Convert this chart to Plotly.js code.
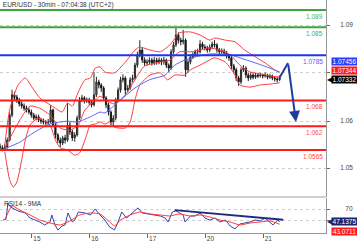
<!DOCTYPE html>
<html><head><meta charset="utf-8">
<script src="https://cdn.plot.ly/plotly-3.0.1.min.js"></script>
<style>html,body{margin:0;padding:0;background:#fff}#chart{width:357px;height:243px}</style>
</head><body><div id="chart"></div>
<script>
// ---- Data ----
const titleText = 'EUR/USD - 30min - 07:04:38 (UTC+2)';
const dayTickPos = [26.5, 74.5, 122.5, 170.5, 218.5];
const dayTickText = ['15', '16', '17', '20', '21'];
const priceTickVals = [1.0855, 1.0744, 1.0632, 1.0523];
const priceTickText = ['1.09', '', '1.06', '1.05'];
const rsiTickVals = [70, 50];
const rsiTickText = ['70', ''];

const firstOpen = 1.0574;
const closes = [1.0570,1.0567,1.0572,1.0588,1.0646,1.0693,1.0688,1.0681,1.0672,1.0667,
 1.0662,1.0658,1.0653,1.0646,1.0639,1.0642,1.0635,1.0632,1.0630,1.0628,
 1.0630,1.0658,1.0623,1.0600,1.0588,1.0581,1.0593,1.0588,1.0623,1.0607,
 1.0593,1.0600,1.0639,1.0681,1.0686,1.0679,1.0681,1.0676,1.0670,1.0693,
 1.0723,1.0716,1.0709,1.0686,1.0670,1.0653,1.0630,1.0639,1.0681,1.0704,
 1.0728,1.0732,1.0704,1.0709,1.0728,1.0732,1.0762,1.0786,1.0797,1.0774,
 1.0767,1.0769,1.0774,1.0767,1.0774,1.0769,1.0774,1.0769,1.0774,1.0762,
 1.0755,1.0793,1.0809,1.0832,1.0820,1.0816,1.0820,1.0751,1.0769,1.0781,
 1.0786,1.0793,1.0793,1.0811,1.0804,1.0802,1.0797,1.0804,1.0811,1.0809,
 1.0797,1.0793,1.0795,1.0790,1.0783,1.0779,1.0760,1.0751,1.0732,1.0723,
 1.0751,1.0755,1.0739,1.0732,1.0739,1.0734,1.0739,1.0737,1.0739,1.0737,
 1.0739,1.0734,1.0737,1.0732,1.0730,1.0728,1.07332];
const highs = [1.0580,1.0576,1.0579,1.0594,1.0652,1.0705,1.0700,1.0693,1.0686,1.0678,
 1.0673,1.0668,1.0664,1.0659,1.0651,1.0648,1.0647,1.0640,1.0638,1.0635,
 1.0637,1.0669,1.0661,1.0627,1.0604,1.0594,1.0598,1.0600,1.0674,1.0630,
 1.0612,1.0606,1.0645,1.0688,1.0693,1.0690,1.0687,1.0686,1.0680,1.0746,
 1.0735,1.0728,1.0720,1.0713,1.0690,1.0675,1.0657,1.0646,1.0686,1.0710,
 1.0735,1.0741,1.0736,1.0716,1.0734,1.0740,1.0768,1.0793,1.0820,1.0802,
 1.0780,1.0776,1.0780,1.0779,1.0781,1.0779,1.0780,1.0778,1.0781,1.0777,
 1.0766,1.0799,1.0816,1.0848,1.0838,1.0826,1.0844,1.0824,1.0775,1.0787,
 1.0792,1.0798,1.0800,1.0820,1.0816,1.0810,1.0807,1.0810,1.0817,1.0820,
 1.0813,1.0802,1.0801,1.0800,1.0795,1.0788,1.0784,1.0765,1.0756,1.0737,
 1.0757,1.0762,1.0759,1.0744,1.0745,1.0743,1.0744,1.0743,1.0744,1.0742,
 1.0745,1.0742,1.0742,1.0740,1.0736,1.0734,1.0738];
const lows = [1.0565,1.0562,1.0563,1.0568,1.0585,1.0641,1.0680,1.0674,1.0666,1.0661,
 1.0656,1.0652,1.0648,1.0640,1.0634,1.0634,1.0630,1.0626,1.0624,1.0622,
 1.0623,1.0627,1.0618,1.0592,1.0581,1.0572,1.0576,1.0580,1.0584,1.0600,
 1.0586,1.0584,1.0596,1.0635,1.0676,1.0673,1.0674,1.0670,1.0664,1.0666,
 1.0688,1.0708,1.0700,1.0680,1.0662,1.0645,1.0623,1.0622,1.0634,1.0676,
 1.0698,1.0722,1.0693,1.0699,1.0704,1.0722,1.0728,1.0756,1.0780,1.0767,
 1.0760,1.0761,1.0763,1.0761,1.0762,1.0763,1.0764,1.0762,1.0763,1.0755,
 1.0746,1.0751,1.0788,1.0804,1.0812,1.0808,1.0810,1.0735,1.0745,1.0764,
 1.0776,1.0781,1.0786,1.0789,1.0798,1.0796,1.0791,1.0792,1.0799,1.0803,
 1.0791,1.0786,1.0788,1.0784,1.0777,1.0772,1.0753,1.0743,1.0725,1.0714,
 1.0718,1.0746,1.0732,1.0725,1.0728,1.0729,1.0730,1.0732,1.0733,1.0731,
 1.0733,1.0729,1.0730,1.0727,1.0724,1.0722,1.0725];

const maX = [4,17,25,41,56,64,75,83,87,100,112,124,137,145,153.5,162,174,191,199,212,224,232];
const maVal = [1.0568,1.0584,1.0600,1.0625,1.0632,1.0630,1.0642,1.0653,1.0651,1.0681,1.0709,1.0728,1.0739,1.0762,1.0774,1.0781,1.0788,1.0786,1.0779,1.0767,1.0755,1.07456];

const bbUpperX = [4,8,15,21,27,33,41.5,46,51.5,56,60,65,70.5,75,79,83,87,95,104,112,116,124.5,133,141,149,158,166,174,178,187,195,203,212,220,228,232];
const bbUpper = [1.0577,1.0658,1.0716,1.0732,1.0709,1.0686,1.0670,1.0662,1.0653,1.0674,1.0667,1.0700,1.0728,1.0732,1.0755,1.0758,1.0746,1.0744,1.0769,1.0797,1.0804,1.0797,1.0793,1.0809,1.0837,1.0839,1.0832,1.0820,1.0825,1.0820,1.0816,1.0797,1.0781,1.0767,1.0751,1.0746];
const bbMidX = [4,16.5,25,33,41.5,50,58,65,70.5,79,83,87,95,104,112,120,133,141,149,158,166,174,182.5,191,199,207.5,216,224,232];
const bbMid = [1.0570,1.0635,1.0667,1.0662,1.0646,1.0616,1.0611,1.0623,1.0658,1.0681,1.0690,1.0681,1.0672,1.0693,1.0728,1.0760,1.0769,1.0774,1.0793,1.0793,1.0797,1.0802,1.0797,1.0786,1.0762,1.0746,1.0742,1.0737,1.07344];
const bbLowerX = [4,8,11,14,18,21,25,31.5,37,41.5,46,50,56,62,66,70.5,75,79,83,87,91,95,104,108,112,116,124.5,133,139,145,153.5,158,166,174,178,187,195,199,207.5,216,224,232];
const bbLower = [1.0561,1.0496,1.0479,1.0491,1.0542,1.0588,1.0623,1.0639,1.0632,1.0623,1.0588,1.0570,1.0565,1.0553,1.0558,1.0588,1.0623,1.0625,1.0630,1.0625,1.0630,1.0618,1.0616,1.0630,1.0681,1.0716,1.0739,1.0744,1.0728,1.0739,1.0739,1.0751,1.0762,1.0774,1.0779,1.0769,1.0739,1.0716,1.0711,1.0716,1.0718,1.0721];

const projX = [232, 239];
const projVal = [1.07332, 1.0767];
const arrowTipX = 245.6;
const arrowTipVal = 1.0630;

const levelValues = [1.089, 1.085, 1.0785, 1.068, 1.062, 1.0565];
const levelLabels = ['1.089', '1.085', '1.0785', '1.068', '1.062', '1.0565'];
const levelColors = ['#3ea43e', '#3ea43e', '#2233ee', '#ff1a1a', '#ff1a1a', '#ff1a1a'];
const levelTextColors = ['#4fae4f', '#4fae4f', '#5b62f0', '#ff4a4a', '#ff4a4a', '#ff4a4a'];

const rsiX = [2.5,5,6.6,8,10,15,21,25,29,33,37,41.5,43,45.6,48,51.5,54,56.4,60,62,65,70.5,75,79,83,87,91,95,98,101,105,109.5,114.5,118,124.5,133,137,139.5,143,146,149,152,153.5,158,162,166,170,174,178.5,182.5,187,191,195,199,203,207.5,211.5,216,220,224,226.5,230.5,232];
const rsiVal = [50.5,52,80.6,75,72,66.5,63,54,50.5,47,41.7,47,59.4,41.7,32.8,40,41.7,63,47,50.5,64.7,63,59.4,70,59.4,50.5,38,33,47,64.7,54,63,72,63,61,57.6,54,47,64.7,66.5,63,59.4,47,57.6,57.6,63,54,50.5,54,47,50.5,40,34.6,43.5,45.2,47,50.5,48.8,54,47,41.7,50.5,47.1375];
const rsiMaX = [4,10,16.6,25,33,41.5,50,58,66,75,83,91,95,100,108,116,124.5,133,141,149,158,166,174,182.5,191,199,207.5,216,224,232];
const rsiMa = [50.5,75.3,68,59.4,50.5,45.2,41.7,48.8,59.4,63,61.2,47,40,50.5,59.4,64.7,61.2,59.4,57.6,61.2,57.6,59.4,55.8,50.5,47,41.7,45.2,47,48.8,43.0711];
const trendX = [145, 235];
const trendVal = [68, 51];

// ---- Build ----
const candleX = closes.map((_, i) => i * 2);
const opens = closes.map((_, i) => i === 0 ? firstOpen : closes[i - 1]);
const FONT = 'Liberation Sans, Arial, sans-serif';
const fs = 6.5;

const bbLine = {color: '#ff3c3c', width: 1, shape: 'spline', smoothing: 0.6};
const traces = [
  {type: 'candlestick', x: candleX, open: opens, high: highs, low: lows, close: closes,
   xaxis: 'x', yaxis: 'y', whiskerwidth: 0,
   increasing: {line: {color: '#2a2a2a', width: 1}, fillcolor: '#6e6e6e'},
   decreasing: {line: {color: '#1a1a1a', width: 1}, fillcolor: '#111111'},
   hoverinfo: 'skip', showlegend: false},
  {type: 'scatter', mode: 'lines', x: bbUpperX, y: bbUpper, line: bbLine, xaxis: 'x', yaxis: 'y', hoverinfo: 'skip'},
  {type: 'scatter', mode: 'lines', x: bbMidX, y: bbMid, line: bbLine, xaxis: 'x', yaxis: 'y', hoverinfo: 'skip'},
  {type: 'scatter', mode: 'lines', x: bbLowerX, y: bbLower, line: bbLine, xaxis: 'x', yaxis: 'y', hoverinfo: 'skip'},
  {type: 'scatter', mode: 'lines', x: maX, y: maVal, line: {color: '#5566ff', width: 1, shape: 'spline', smoothing: 0.6}, xaxis: 'x', yaxis: 'y', hoverinfo: 'skip'},
  {type: 'scatter', mode: 'lines', x: projX, y: projVal, line: {color: '#1d3e9e', width: 2}, xaxis: 'x', yaxis: 'y', hoverinfo: 'skip'},
  {type: 'scatter', mode: 'lines', x: rsiX, y: rsiVal, line: {color: '#3a3fb0', width: 1}, xaxis: 'x', yaxis: 'y2', hoverinfo: 'skip'},
  {type: 'scatter', mode: 'lines', x: rsiMaX, y: rsiMa, line: {color: '#ff3a3a', width: 1, shape: 'spline', smoothing: 0.5}, xaxis: 'x', yaxis: 'y2', hoverinfo: 'skip'},
  {type: 'scatter', mode: 'lines', x: trendX, y: trendVal, line: {color: '#1f2a80', width: 2}, xaxis: 'x', yaxis: 'y2', hoverinfo: 'skip'}
];

const shapes = levelValues.map((v, i) => ({type: 'line', xref: 'paper', x0: 0, x1: 1, yref: 'y', y0: v, y1: v,
  line: {color: levelColors[i], width: 2}}));
shapes.push({type: 'line', xref: 'paper', x0: 0, x1: 1, yref: 'paper', y0: 0.1545, y1: 0.1545, line: {color: '#a0a0a0', width: 1}});

const annotations = levelValues.map((v, i) => ({xref: 'paper', x: 0.997, xanchor: 'right', yref: 'y', y: v, yanchor: 'top',
  yshift: -1, text: levelLabels[i], showarrow: false, font: {family: FONT, size: fs, color: levelTextColors[i]}}));

function tag(yref, val, label, bg, shift) {
  return {xref: 'paper', x: 1.015, xanchor: 'left', yref: yref, y: val, yanchor: 'middle', yshift: shift,
    text: label, showarrow: false, bgcolor: bg, borderpad: 0, width: 25, align: 'center',
    font: {family: FONT, size: fs, color: '#ffffff'}};
}
function pointer(yref, val, color, shift) {
  return {xref: 'paper', x: 0.999, xanchor: 'left', yref: yref, y: val, yanchor: 'middle', yshift: shift,
    text: '◀', showarrow: false, borderpad: 0, font: {family: 'DejaVu Sans', size: 8, color: color}};
}
annotations.push(tag('y', maVal[maVal.length - 1], maVal[maVal.length - 1].toFixed(5), '#2b3bff', 11));
annotations.push(tag('y', bbMid[bbMid.length - 1], bbMid[bbMid.length - 1].toFixed(5), '#ff1a1a', 7));
annotations.push(pointer('y', closes[closes.length - 1], '#000000', -1.5));
annotations.push(tag('y', closes[closes.length - 1], closes[closes.length - 1].toFixed(5), '#000000', -1.5));
annotations.push(pointer('y2', rsiVal[rsiVal.length - 1], '#1a2370', 0));
annotations.push(tag('y2', rsiVal[rsiVal.length - 1], rsiVal[rsiVal.length - 1].toFixed(4), '#1a2370', 0));
annotations.push(tag('y2', rsiMa[rsiMa.length - 1], rsiMa[rsiMa.length - 1].toFixed(4), '#ff1a1a', -7));
annotations.push({xref: 'x', yref: 'y', axref: 'x', ayref: 'y', x: arrowTipX, y: arrowTipVal,
  ax: projX[1], ay: projVal[1], text: '', showarrow: true, arrowhead: 2, arrowsize: 1.1, arrowwidth: 2, arrowcolor: '#1d3e9e'});
annotations.push({xref: 'paper', x: 0.005, xanchor: 'left', yref: 'paper', y: 0.1245, yanchor: 'middle',
  text: 'RSI14 - 9MA', showarrow: false, font: {family: FONT, size: fs, color: '#333'}});

const layout = {
  width: 357, height: 243,
  margin: {l: 0, r: 31, t: 0, b: 10},
  paper_bgcolor: '#ffffff', plot_bgcolor: '#ffffff',
  showlegend: false, hovermode: false,
  title: {text: titleText, xref: 'container', x: 0.008, xanchor: 'left', yref: 'container', y: 0.979, yanchor: 'middle',
    font: {family: FONT, size: fs, color: '#333'}},
  xaxis: {domain: [0, 1], range: [0, 270.5], anchor: 'y2', showline: true, linecolor: '#999', linewidth: 1,
    ticks: 'outside', ticklen: 4, tickcolor: '#666', tickvals: dayTickPos, ticktext: dayTickText,
    tickfont: {family: FONT, size: fs, color: '#444'}, ticklabelshift: 5, ticklabelstandoff: -5,
    showgrid: false, zeroline: false, rangeslider: {visible: false}, fixedrange: true},
  yaxis: {domain: [0.1545, 1], range: [1.04559, 1.09132], side: 'right', anchor: 'x', showline: true, linecolor: '#999',
    ticks: 'outside', ticklen: 3, tickcolor: '#666', tickvals: priceTickVals, ticktext: priceTickText,
    tickfont: {family: FONT, size: fs, color: '#444'}, ticklabelstandoff: 9,
    showgrid: true, gridcolor: '#cfcfcf', griddash: 'dot', zeroline: false, fixedrange: true},
  yaxis2: {domain: [0, 0.1502], range: [27.5, 89.47], side: 'right', anchor: 'x', showline: true, linecolor: '#999',
    ticks: 'outside', ticklen: 3, tickcolor: '#666', tickvals: rsiTickVals, ticktext: rsiTickText,
    tickfont: {family: FONT, size: fs, color: '#444'}, ticklabelstandoff: 14,
    showgrid: true, gridcolor: '#cfcfcf', griddash: 'dot', zeroline: false, fixedrange: true},
  shapes: shapes,
  annotations: annotations
};

Plotly.newPlot('chart', traces, layout, {displayModeBar: false, staticPlot: true});
</script>
</body></html>
